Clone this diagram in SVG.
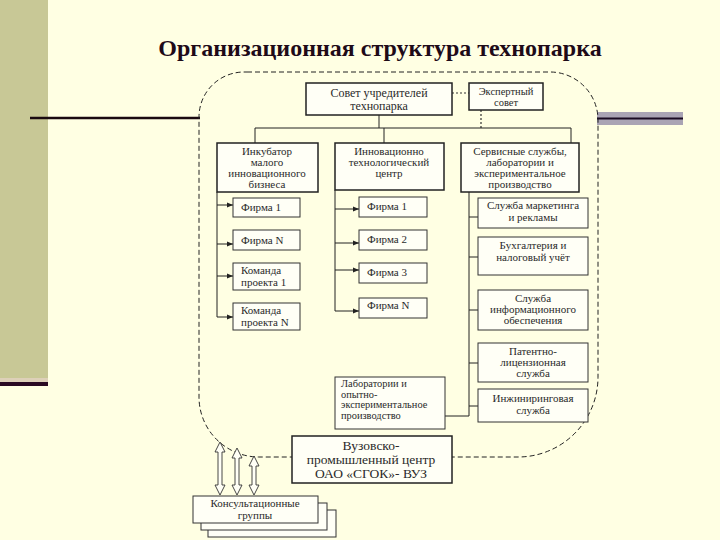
<svg xmlns="http://www.w3.org/2000/svg" width="720" height="540" viewBox="0 0 720 540" font-family="'Liberation Serif', 'Times New Roman', serif">
<style>
text{font-family:'Liberation Serif','Times New Roman',serif;fill:#2a2a2a;}
.t{font-size:11px;text-anchor:middle;}
.l{font-size:11px;}
.lab{font-size:10.4px;}
.box{fill:#fffff6;stroke:#333;stroke-width:1;}
.bb{fill:#fffff6;stroke:#222;stroke-width:1.5;}
.ln{stroke:#222;stroke-width:1;fill:none;}
.dot{stroke:#333;stroke-width:1.2;stroke-dasharray:2 2;fill:none;}
.dar{fill:#fffff6;stroke:#333;stroke-width:0.9;}
</style>
<defs>
<marker id="ah" markerWidth="6" markerHeight="6" refX="6" refY="3" orient="auto" markerUnits="userSpaceOnUse">
<path d="M0,0.5 L6,3 L0,5.5 Z" fill="#222"/>
</marker>
</defs>
<rect width="720" height="540" fill="#ffffe3"/>
<rect x="0" y="0" width="48" height="378" fill="#c8c896"/>
<rect x="0" y="378" width="48" height="4" fill="#ddd0b8"/>
<rect x="0" y="382" width="48" height="4" fill="#2a0a22"/>
<line x1="30" y1="118" x2="200" y2="118" stroke="#1a0a10" stroke-width="2.5"/>
<rect x="597" y="112" width="86" height="13" fill="#aaa4b4"/>
<line x1="597" y1="118.5" x2="683" y2="118.5" stroke="#1a0a22" stroke-width="2"/>
<text x="380" y="56" style="font-size:24px;font-weight:bold;text-anchor:middle;fill:#1e0a18">Организационная структура технопарка</text>

<path d="M247,72 H550 A48,48 0 0 1 598,120 V377 A80,80 0 0 1 518,457 H259 A60,60 0 0 1 199,397 V117 A45,45 0 0 1 244,72 Z" fill="none" stroke="#222" stroke-width="1" stroke-dasharray="5 3"/>

<g id="connectors">
<line class="dot" x1="452" y1="93" x2="469" y2="93"/>
<line class="dot" x1="481" y1="110" x2="481" y2="128"/>
<line class="ln" x1="379" y1="115" x2="379" y2="128"/>
<line class="ln" x1="255" y1="128" x2="571" y2="128"/>
<line class="ln" x1="255" y1="128" x2="255" y2="143"/>
<line class="ln" x1="384" y1="128" x2="384" y2="143"/>
<line class="ln" x1="571" y1="128" x2="571" y2="143"/>
<line class="ln" x1="217" y1="192" x2="217" y2="317"/>
<line class="ln" x1="217" y1="205" x2="233" y2="205" marker-end="url(#ah)"/>
<line class="ln" x1="217" y1="244" x2="233" y2="244" marker-end="url(#ah)"/>
<line class="ln" x1="217" y1="276" x2="233" y2="276" marker-end="url(#ah)"/>
<line class="ln" x1="217" y1="317" x2="233" y2="317" marker-end="url(#ah)"/>
<line class="ln" x1="335" y1="190" x2="335" y2="311"/>
<line class="ln" x1="335" y1="209" x2="359" y2="209" marker-end="url(#ah)"/>
<line class="ln" x1="335" y1="243" x2="359" y2="243" marker-end="url(#ah)"/>
<line class="ln" x1="335" y1="270" x2="359" y2="270" marker-end="url(#ah)"/>
<line class="ln" x1="335" y1="311" x2="359" y2="311" marker-end="url(#ah)"/>
<line class="ln" x1="469" y1="192" x2="469" y2="416"/>
<line class="ln" x1="469" y1="217" x2="478" y2="217"/>
<line class="ln" x1="469" y1="257" x2="478" y2="257"/>
<line class="ln" x1="469" y1="310" x2="478" y2="310"/>
<line class="ln" x1="469" y1="363" x2="478" y2="363"/>
<line class="ln" x1="469" y1="406" x2="478" y2="406"/>
<line class="ln" x1="445" y1="416" x2="469" y2="416"/>
<path class="dar" d="M220,442 L225,452 L222,452 L222,485 L225,485 L220,495 L215,485 L218,485 L218,452 L215,452 Z"/>
<path class="dar" d="M237,448 L242,458 L239,458 L239,485 L242,485 L237,495 L232,485 L235,485 L235,458 L232,458 Z"/>
<path class="dar" d="M254,456 L259,466 L256,466 L256,485 L259,485 L254,495 L249,485 L252,485 L252,466 L249,466 Z"/>
</g>

<g id="n-sovet">
<rect class="bb" x="306" y="83" width="146" height="32"/>
<text class="t" x="379" y="97" style="font-size:12px">Совет учредителей</text>
<text class="t" x="379" y="110" style="font-size:12px">технопарка</text>
</g>
<g id="n-expert">
<rect class="bb" x="469" y="83" width="74" height="27"/>
<text class="t" x="506" y="95" style="font-size:10.5px">Экспертный</text>
<text class="t" x="506" y="106" style="font-size:10.5px">совет</text>
</g>

<g id="n-inkub">
<rect class="bb" x="217" y="143" width="101" height="49"/>
<text class="t" x="267" y="155">Инкубатор</text>
<text class="t" x="267" y="166">малого</text>
<text class="t" x="267" y="177">инновационного</text>
<text class="t" x="267" y="188">бизнеса</text>
</g>
<g id="n-itc">
<rect class="bb" x="335" y="143" width="109" height="47"/>
<text class="t" x="389" y="155">Инновационно</text>
<text class="t" x="389" y="166">технологический</text>
<text class="t" x="389" y="177">центр</text>
</g>
<g id="n-serv">
<rect class="bb" x="461" y="143" width="118" height="49"/>
<text class="t" x="520" y="155">Сервисные службы,</text>
<text class="t" x="520" y="166">лаборатории и</text>
<text class="t" x="520" y="177">экспериментальное</text>
<text class="t" x="520" y="188">производство</text>
</g>

<g id="n-l1"><rect class="box" x="233" y="198" width="67" height="19"/><text class="l" x="241" y="211">Фирма 1</text></g>
<g id="n-l2"><rect class="box" x="233" y="230" width="67" height="20"/><text class="l" x="241" y="244">Фирма N</text></g>
<g id="n-l3"><rect class="box" x="233" y="263" width="67" height="27"/><text class="l" x="241" y="274">Команда</text><text class="l" x="241" y="286">проекта 1</text></g>
<g id="n-l4"><rect class="box" x="233" y="303" width="67" height="27"/><text class="l" x="241" y="314">Команда</text><text class="l" x="241" y="326">проекта N</text></g>

<g id="n-m1"><rect class="box" x="359" y="197" width="68" height="20"/><text class="l" x="367" y="210">Фирма 1</text></g>
<g id="n-m2"><rect class="box" x="359" y="230" width="68" height="20"/><text class="l" x="367" y="243">Фирма 2</text></g>
<g id="n-m3"><rect class="box" x="359" y="263" width="68" height="20"/><text class="l" x="367" y="276">Фирма 3</text></g>
<g id="n-m4"><rect class="box" x="359" y="298" width="68" height="20"/><text class="l" x="367" y="309">Фирма N</text></g>

<g id="n-r1"><rect class="box" x="478" y="198" width="110" height="30"/><text class="t" x="533" y="209">Служба маркетинга</text><text class="t" x="533" y="221">и рекламы</text></g>
<g id="n-r2"><rect class="box" x="478" y="237" width="110" height="38"/><text class="t" x="533" y="249">Бухгалтерия и</text><text class="t" x="533" y="261">налоговый учёт</text></g>
<g id="n-r3"><rect class="box" x="478" y="290" width="110" height="40"/><text class="t" x="533" y="302">Служба</text><text class="t" x="533" y="313">информационного</text><text class="t" x="533" y="324">обеспечения</text></g>
<g id="n-r4"><rect class="box" x="478" y="343" width="110" height="39"/><text class="t" x="533" y="355">Патентно-</text><text class="t" x="533" y="366">лицензионная</text><text class="t" x="533" y="377">служба</text></g>
<g id="n-r5"><rect class="box" x="478" y="389" width="110" height="33"/><text class="t" x="533" y="402">Инжиниринговая</text><text class="t" x="533" y="414">служба</text></g>

<g id="n-lab"><rect class="box" x="335" y="377" width="110" height="52"/>
<text class="lab" x="341" y="387">Лаборатории и</text>
<text class="lab" x="341" y="397.5">опытно-</text>
<text class="lab" x="341" y="408">экспериментальное</text>
<text class="lab" x="341" y="418.5">производство</text></g>

<g id="n-vuz"><rect class="bb" x="292" y="436" width="160" height="47"/>
<text class="t" x="371" y="450" style="font-size:13.5px">Вузовско-</text>
<text class="t" x="371" y="464" style="font-size:13.5px">промышленный центр</text>
<text class="t" x="371" y="478" style="font-size:13.5px">ОАО «СГОК»- ВУЗ</text></g>

<g id="n-consult">
<rect class="box" x="208" y="510" width="128" height="27"/>
<rect class="box" x="201" y="503" width="126" height="27"/>
<rect class="box" x="193" y="496" width="125" height="27"/>
<text class="t" x="255" y="507">Консультационные</text>
<text class="t" x="255" y="519">группы</text>
</g>
</svg>
